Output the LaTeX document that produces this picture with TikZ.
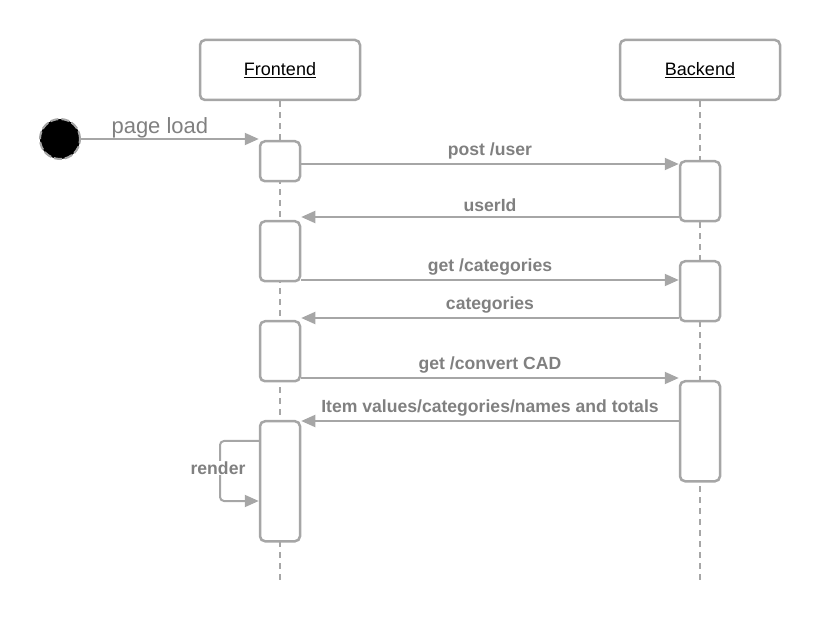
\documentclass[tikz,border=0pt]{standalone}
\usepackage{fontspec}
\setmainfont{Liberation Sans}
\usetikzlibrary{arrows.meta}
\definecolor{lc}{HTML}{A6A6A6}
\definecolor{tc}{HTML}{808080}
\tikzset{
  x=1pt,y=-1pt,
  actor/.style={draw=lc,line width=2.5pt,rounded corners=5pt,minimum width=160pt,minimum height=60pt,fill=white,inner sep=0pt},
  act/.style={draw=lc,line width=2.5pt,rounded corners=5pt,minimum width=40pt,fill=white,inner sep=0pt,anchor=north},
  life/.style={draw=lc,line width=2pt,dash pattern=on 6pt off 5pt},
  msg/.style={draw=lc,line width=2pt,-{Triangle[length=14pt,width=12pt]}},
  lbl/.style={text=tc,font=\fontsize{17.6}{19}\selectfont\bfseries,inner sep=1pt},
}
\begin{document}
\begin{tikzpicture}
\useasboundingbox (0,0) rectangle (820,620);
\node[actor] (fe) at (280,70) {\fontsize{18}{20}\selectfont\underline{Frontend}};
\node[actor] (be) at (700,70) {\fontsize{18}{20}\selectfont\underline{Backend}};
\coordinate (feend) at (280,580);
\coordinate (beend) at (700,580);
\draw[life] (fe.south) -- (feend);
\draw[life] (be.south) -- (beend);
% activations
\node[act,minimum height=40pt] (f1) at (280,140) {};
\node[act,minimum height=60pt] (f2) at (280,220) {};
\node[act,minimum height=60pt] (f3) at (280,320) {};
\node[act,minimum height=120pt] (f4) at (280,420) {};
\node[act,minimum height=60pt] (b1) at (700,160) {};
\node[act,minimum height=60pt] (b2) at (700,260) {};
\node[act,minimum height=100pt] (b3) at (700,380) {};
% start
\node[circle,fill=black,draw=lc,line width=2pt,dash pattern=on 8pt off 3pt,minimum size=40pt,inner sep=0pt] (st) at (60,139) {};
\draw[msg] (st.east) -- (f1.west |- st.east) node[midway,above=-3pt,text=tc,font=\fontsize{22}{24}\selectfont,xshift=-10pt] {page load};
% messages
\draw[msg] (f1.east |- 0,164) -- node[lbl,above=3pt] {post /user} (b1.west |- 0,164);
\draw[msg] (b1.west |- 0,217) -- node[lbl,above=3pt] {userId} (f2.east |- 0,217);
\draw[msg] (f2.east |- 0,280) -- node[lbl,above=3pt] {get /categories} (b2.west |- 0,280);
\draw[msg] (b2.west |- 0,318) -- node[lbl,above=3pt] {categories} (f3.east |- 0,318);
\draw[msg] (f3.east |- 0,378) -- node[lbl,above=3pt] {get /convert CAD} (b3.west |- 0,378);
\draw[msg] (b3.west |- 0,421) -- node[lbl,above=3pt] {Item values/categories/names and totals} (f4.east |- 0,421);
% self loop
\draw[draw=lc,line width=2pt,rounded corners=4pt,-{Triangle[length=14pt,width=12pt]}] (f4.west |- 0,441) -- (220,441) -- (220,501) -- (f4.west |- 0,501);
\node[lbl,fill=white] (rl) at (218,468) {render};
\end{tikzpicture}
\end{document}
